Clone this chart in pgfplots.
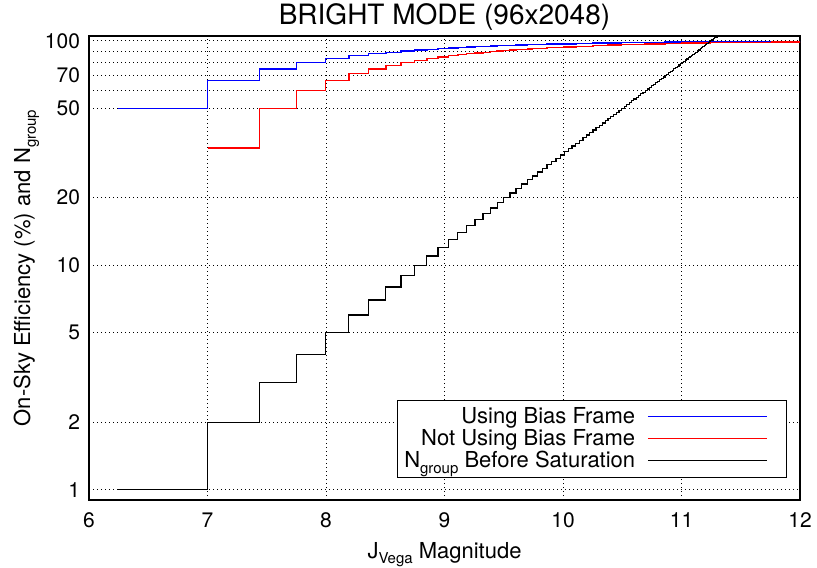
\documentclass[border=0pt]{standalone}
\usepackage{pgfplots}
\pgfplotsset{compat=1.18}
\usepackage{fontspec}
\setmainfont{TeX Gyre Heros}
\newcommand\sub[1]{\raisebox{-0.5ex}{\fontsize{7.5}{8}\selectfont #1}}
\begin{document}
\begin{tikzpicture}
\begin{axis}[
  name=ax,
  scale only axis,
  width=355.5pt, height=232pt,
  xmin=6, xmax=12,
  ymode=log, ymin=0.9, ymax=105,
  xtick={6,7,8,9,10,11,12},
  xticklabels={6,7,8,9,10,11,12},
  ytick={1,2,5,10,20,50,60,70,80,90,100},
  yticklabels={1,2,5,10,20,50,,70,,,100},
  major tick length=0pt, minor tick length=0pt,
  grid=major,
  major grid style={black, line width=0.5pt, dash pattern=on 0.5pt off 1.5pt},
  axis line style={line width=0.6pt},
  tick label style={font=\fontsize{10.5}{12}\selectfont},
  xticklabel style={yshift=-3pt},
  yticklabel style={xshift=-1pt},
  title={BRIGHT MODE (96x2048)},
  title style={font=\fontsize{14}{16}\selectfont, at={(0.5,1)}, anchor=base, yshift=-0.5pt, inner sep=0pt},
  xlabel={J\sub{Vega} Magnitude},
  ylabel={On-Sky Efficiency (\%) and N\sub{group}},
  ylabel shift=-4pt,
  label style={font=\fontsize{11}{12}\selectfont},
  legend plot pos=right,
  legend cell align=right,
  legend image code/.code={\path (0pt,0pt) (71.5pt,0pt); \draw[#1] (4pt,0pt) -- (63.5pt,0pt);},
  legend style={at={(0.9817,0.0474)}, anchor=south east,
    font=\fontsize{11}{11}\selectfont, row sep=-2.5pt, inner sep=1.5pt},
]
\addplot[const plot, blue, line width=0.7pt] coordinates {
(6.247,50.0)(7.000,66.67)(7.440,75.0)(7.753,80.0)(7.995,83.33)(8.193,85.71)(8.360,87.5)(8.505,88.89)(8.633,90.0)(8.747,90.91)(8.851,91.67)(8.945,92.31)(9.032,92.86)(9.113,93.33)(9.188,93.75)(9.258,94.12)(9.324,94.44)(9.386,94.74)(9.444,95.0)(9.500,95.24)(9.603,95.65)(9.698,96.0)(9.785,96.30)(9.865,96.55)(9.940,96.77)(10.108,97.22)(10.253,97.56)(10.495,98.04)(10.693,98.36)(10.860,98.59)(11.005,98.77)(11.247,99.01)(11.5,99.21)(11.758,99.38)(12.0,99.50)
};
\addlegendentry{Using Bias Frame}
\addplot[const plot, red, line width=0.7pt] coordinates {
(7.000,33.33)(7.440,50.0)(7.753,60.0)(7.995,66.67)(8.193,71.43)(8.360,75.0)(8.505,77.78)(8.633,80.0)(8.747,81.82)(8.851,83.33)(8.945,84.62)(9.032,85.71)(9.113,86.67)(9.188,87.5)(9.258,88.24)(9.324,88.89)(9.386,89.47)(9.444,90.0)(9.500,90.48)(9.553,90.91)(9.603,91.30)(9.652,91.67)(9.698,92.0)(9.742,92.31)(9.785,92.59)(9.865,93.10)(9.940,93.55)(10.010,93.94)(10.108,94.44)(10.253,95.12)(10.380,95.65)(10.495,96.08)(10.693,96.72)(10.860,97.18)(11.005,97.53)(11.133,97.80)(11.247,98.02)(11.5,98.43)(11.758,98.76)(12.0,99.00)
};
\addlegendentry{Not Using Bias Frame}
\addplot[const plot, black, line width=0.6pt] coordinates {
(6.247,1)(7.000,2)(7.440,3)(7.753,4)(7.995,5)(8.193,6)(8.360,7)(8.505,8)(8.633,9)(8.747,10)(8.851,11)(8.945,12)(9.032,13)(9.113,14)(9.188,15)(9.258,16)(9.324,17)(9.386,18)(9.444,19)(9.500,20)(9.553,21)(9.603,22)(9.652,23)(9.698,24)(9.742,25)(9.785,26)(9.826,27)(9.865,28)(9.903,29)(9.940,30)(9.976,31)(10.010,32)(10.044,33)(10.076,34)(10.108,35)(10.138,36)(10.168,37)(10.197,38)(10.225,39)(10.253,40)(10.279,41)(10.306,42)(10.331,43)(10.356,44)(10.380,45)(10.404,46)(10.428,47)(10.451,48)(10.473,49)(10.495,50)(10.516,51)(10.537,52)(10.558,53)(10.578,54)(10.598,55)(10.618,56)(10.637,57)(10.656,58)(10.675,59)(10.693,60)(10.711,61)(10.728,62)(10.746,63)(10.763,64)(10.780,65)(10.796,66)(10.813,67)(10.829,68)(10.845,69)(10.860,70)(10.876,71)(10.891,72)(10.906,73)(10.921,74)(10.935,75)(10.949,76)(10.964,77)(10.978,78)(10.992,79)(11.005,80)(11.019,81)(11.032,82)(11.045,83)(11.058,84)(11.071,85)(11.084,86)(11.096,87)(11.109,88)(11.121,89)(11.133,90)(11.145,91)(11.157,92)(11.169,93)(11.180,94)(11.192,95)(11.203,96)(11.214,97)(11.226,98)(11.237,99)(11.247,100)(11.258,101)(11.269,102)(11.279,103)(11.290,104)(11.300,105)(11.311,106)(11.32,106)
};
\addlegendentry{N\sub{group} Before Saturation}
\end{axis}
\pgfresetboundingbox
\path ([shift={(-44.5pt,-33.5pt)}]ax.south west) rectangle ([shift={(8.5pt,18pt)}]ax.north east);
\end{tikzpicture}
\end{document}
